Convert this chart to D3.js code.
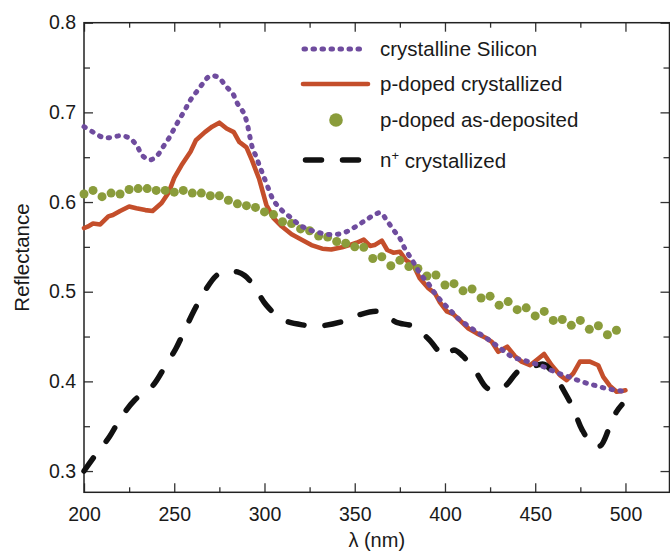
<!DOCTYPE html>
<html>
<head>
<meta charset="utf-8">
<script src="https://cdn.jsdelivr.net/npm/d3@7"></script>
<style>
  body { margin: 0; background: #fff; }
  svg text { font-family: "Liberation Sans", Arial, sans-serif; fill: #1a1a1a; }
</style>
</head>
<body>
<script>
// crystalline Silicon (dotted purple)
var siLambda = [200, 205, 210.7, 215.3, 220.3, 225.5, 229.5, 232.3, 236.6, 240.6, 244, 247.3, 250, 252.8, 256, 258.7, 262, 265.8, 269.8, 274.4,
  278.7, 282.4, 285, 288.3, 290.1, 292, 293.4, 295.3, 297.5, 299.3, 302, 305, 309.5, 315, 319.7, 325, 330, 335, 340, 345.5,
  350, 354.7, 359.4, 364.3, 367.6, 371.4, 375, 377.8, 380.6, 383.4, 386.1, 390.8, 394.5, 398.2, 402.8, 407.4, 413, 418.5, 423.1, 428.3,
  433.2, 437.8, 443, 448, 452.6, 457.8, 462.8, 467.4, 472.6, 477.6, 482.2, 487.4, 492.3, 497, 500];
var siR = [0.684, 0.678, 0.672, 0.672, 0.674, 0.671, 0.662, 0.652, 0.647, 0.652, 0.662, 0.672, 0.682, 0.692, 0.703, 0.713, 0.722, 0.732, 0.7406, 0.739,
  0.729, 0.721, 0.710, 0.700, 0.690, 0.672, 0.660, 0.651, 0.639, 0.630, 0.616, 0.602, 0.591, 0.582, 0.574, 0.569, 0.566, 0.564, 0.564, 0.567,
  0.572, 0.578, 0.584, 0.588, 0.580, 0.569, 0.5596, 0.548, 0.539, 0.530, 0.5205, 0.509, 0.498, 0.489, 0.4796, 0.470, 0.4617, 0.454, 0.448, 0.4405,
  0.433, 0.4268, 0.424, 0.4208, 0.418, 0.4134, 0.409, 0.406, 0.402, 0.3985, 0.396, 0.393, 0.391, 0.3895, 0.389];

// p-doped crystallized (solid red)
var pcLambda = [200, 202, 205, 209, 213.5, 216, 220, 225, 229, 234, 238, 243, 247, 250, 254, 259, 262, 267, 271, 275,
  279, 283, 286, 290, 293, 297, 301, 305, 309.5, 315, 320.6, 326, 332, 337, 343, 347, 351, 355, 358.5, 361,
  365, 368, 371.4, 375, 378.4, 382.4, 386, 390.8, 394.5, 397.2, 401, 404.6, 408.3, 413, 417.6, 422.2, 426, 429.5, 434.5, 438.8,
  442.5, 447.1, 450.8, 454.9, 459.1, 463.7, 467.4, 471.1, 474.8, 480.3, 484.9, 487.7, 491.4, 495.1, 497.5, 500];
var pcR = [0.571, 0.5725, 0.576, 0.575, 0.584, 0.5855, 0.590, 0.595, 0.593, 0.591, 0.590, 0.599, 0.611, 0.627, 0.641, 0.656, 0.669, 0.678, 0.684, 0.6885,
  0.682, 0.678, 0.667, 0.661, 0.647, 0.626, 0.597, 0.582, 0.573, 0.564, 0.558, 0.552, 0.548, 0.547, 0.5495, 0.552, 0.5546, 0.558, 0.551, 0.552,
  0.557, 0.5465, 0.5435, 0.5446, 0.5353, 0.530, 0.515, 0.504, 0.498, 0.488, 0.478, 0.475, 0.468, 0.459, 0.4536, 0.449, 0.444, 0.433, 0.4387, 0.428,
  0.422, 0.418, 0.4238, 0.4305, 0.418, 0.407, 0.4015, 0.409, 0.422, 0.422, 0.418, 0.405, 0.395, 0.3885, 0.389, 0.390];

// p-doped as-deposited (green markers, every 5 nm)
var paLambda = d3.range(200, 500, 5);
var paR = [0.609, 0.613, 0.606, 0.610, 0.609, 0.614, 0.615, 0.615, 0.613, 0.613,
  0.611, 0.613, 0.610, 0.610, 0.607, 0.607, 0.602, 0.598, 0.596, 0.594,
  0.589, 0.586, 0.578, 0.576, 0.570, 0.568, 0.562, 0.561, 0.556, 0.554,
  0.550, 0.5495, 0.537, 0.539, 0.529, 0.535, 0.528, 0.526, 0.5175, 0.5186,
  0.5075, 0.509, 0.501, 0.503, 0.493, 0.495, 0.485, 0.489, 0.480, 0.482,
  0.473, 0.478, 0.468, 0.469, 0.4625, 0.468, 0.458, 0.462, 0.452, 0.457];

// n+ crystallized (dashed black)
var ncLambda = [200, 206, 214, 220, 228, 238, 245, 251, 256, 261, 267, 274, 280, 285, 289, 294, 301, 310, 321, 331,
  342, 352, 363, 368, 373, 383, 391, 400, 405, 410, 417, 423, 428, 434, 441, 451, 455, 460, 466, 471,
  476, 482, 486, 491, 495, 498];
var ncR = [0.300, 0.317, 0.338, 0.358, 0.379, 0.395, 0.417, 0.437, 0.458, 0.479, 0.501, 0.519, 0.523, 0.522, 0.518, 0.507, 0.485, 0.469, 0.463, 0.462,
  0.466, 0.474, 0.478, 0.473, 0.466, 0.461, 0.447, 0.428, 0.435, 0.428, 0.411, 0.393, 0.390, 0.396, 0.412, 0.418, 0.419, 0.409, 0.389, 0.370,
  0.346, 0.329, 0.328, 0.348, 0.366, 0.374];

var xMajor = [200, 250, 300, 350, 400, 450, 500];
var xMinor = [225, 275, 325, 375, 425, 475, 525];
var yMajor = [0.3, 0.4, 0.5, 0.6, 0.7, 0.8];
var yMinor = [0.35, 0.45, 0.55, 0.65, 0.75];

var legendNames = ["crystalline Silicon", "p-doped crystallized", "p-doped as-deposited", "crystallized"];

var width = 670, height = 554;
var plotLeft = 84, plotTop = 22.7, plotRight = 669.5, plotBottom = 492.3;

var purple = "#6f4c9e", red = "#c44e2b", green = "#8a9c3b", black = "#111";

var svg = d3.select("body").append("svg")
    .attr("width", width)
    .attr("height", height);

var x = d3.scaleLinear().domain([200, 524.4]).range([plotLeft, plotRight]);
var y = d3.scaleLinear().domain([0.2763, 0.8]).range([plotBottom, plotTop]);

function zip(a, b) { return a.map(function(v, i) { return [v, b[i]]; }); }

// axes: ticks point inward on all four sides
function drawAxis(axis, tx, ty, size, values, labels) {
  var g = svg.append("g")
      .attr("transform", "translate(" + tx + "," + ty + ")")
      .call(axis.tickValues(values).tickSizeInner(size).tickSizeOuter(0));
  g.select(".domain").remove();
  g.selectAll(".tick line").attr("stroke", "#333").attr("stroke-width", 1.3);
  if (!labels) g.selectAll(".tick text").remove();
  return g;
}

var bx = drawAxis(d3.axisBottom(x).tickPadding(15).tickFormat(d3.format("d")), 0, plotBottom, -9, xMajor, true);
bx.selectAll(".tick text").attr("font-size", "19.5px").attr("fill", "#1a1a1a");
drawAxis(d3.axisBottom(x), 0, plotBottom, -5, xMinor, false);
drawAxis(d3.axisTop(x), 0, plotTop, -9, xMajor, false);
drawAxis(d3.axisTop(x), 0, plotTop, -5, xMinor, false);

var ly = drawAxis(d3.axisLeft(y).tickPadding(8).tickFormat(d3.format(".1f")), plotLeft, 0, -9, yMajor, true);
ly.selectAll(".tick text").attr("font-size", "19.5px").attr("fill", "#1a1a1a");
drawAxis(d3.axisLeft(y), plotLeft, 0, -6, yMinor, false);
drawAxis(d3.axisRight(y), plotRight, 0, -9, yMajor, false);
drawAxis(d3.axisRight(y), plotRight, 0, -6, yMinor, false);

// frame
svg.append("rect")
    .attr("x", plotLeft).attr("y", plotTop)
    .attr("width", plotRight - plotLeft).attr("height", plotBottom - plotTop)
    .attr("fill", "none").attr("stroke", "#222").attr("stroke-width", 1.5);

// axis titles
svg.append("text")
    .attr("x", (plotLeft + plotRight) / 2).attr("y", 547)
    .attr("text-anchor", "middle").attr("font-size", "20px")
    .text("λ (nm)");

svg.append("text")
    .attr("transform", "translate(29," + ((plotTop + plotBottom) / 2) + ") rotate(-90)")
    .attr("text-anchor", "middle").attr("font-size", "20.5px")
    .text("Reflectance");

// curves
var plot = svg.append("g");

var smooth = d3.line().x(function(d) { return x(d[0]); }).y(function(d) { return y(d[1]); })
    .curve(d3.curveCatmullRom);
var straight = d3.line().x(function(d) { return x(d[0]); }).y(function(d) { return y(d[1]); });

plot.append("path")
    .attr("d", straight(zip(pcLambda, pcR)))
    .attr("fill", "none").attr("stroke", red).attr("stroke-width", 4.6)
    .attr("stroke-linejoin", "round").attr("stroke-linecap", "round");

plot.append("path")
    .attr("d", smooth(zip(ncLambda, ncR)))
    .attr("fill", "none").attr("stroke", black).attr("stroke-width", 5.5)
    .attr("stroke-dasharray", "16 21").attr("stroke-linecap", "round");

plot.selectAll("circle.pa")
    .data(zip(paLambda, paR))
    .enter().append("circle")
    .attr("class", "pa")
    .attr("cx", function(d) { return x(d[0]); })
    .attr("cy", function(d) { return y(d[1]); })
    .attr("r", 4.5)
    .attr("fill", green);

plot.append("path")
    .attr("d", smooth(zip(siLambda, siR)))
    .attr("fill", "none").attr("stroke", purple).attr("stroke-width", 5)
    .attr("stroke-dasharray", "1.5 7.5").attr("stroke-linecap", "round");

// legend
var legX0 = 304, legX1 = 367, legText = 380;
var rows = [49, 84, 120, 160];

svg.append("line")
    .attr("x1", legX0).attr("x2", legX1).attr("y1", rows[0]).attr("y2", rows[0])
    .attr("stroke", purple).attr("stroke-width", 5)
    .attr("stroke-dasharray", "1.5 7.5").attr("stroke-linecap", "round");
svg.append("line")
    .attr("x1", legX0 - 1).attr("x2", legX1 + 1).attr("y1", rows[1]).attr("y2", rows[1])
    .attr("stroke", red).attr("stroke-width", 4.6).attr("stroke-linecap", "round");
svg.append("circle")
    .attr("cx", 336).attr("cy", rows[2]).attr("r", 6.8).attr("fill", green);
svg.append("line")
    .attr("x1", 305.5).attr("x2", 360).attr("y1", rows[3]).attr("y2", rows[3])
    .attr("stroke", black).attr("stroke-width", 5.5)
    .attr("stroke-dasharray", "16 21").attr("stroke-linecap", "round");

legendNames.forEach(function(name, i) {
  var t = svg.append("text")
      .attr("x", legText).attr("y", rows[i]).attr("dy", "0.36em")
      .attr("font-size", "20.5px");
  if (i === 3) {
    t.append("tspan").text("n");
    t.append("tspan").attr("font-size", "13px").attr("dy", "-0.6em").text("+");
    t.append("tspan").attr("dy", "0.4em").text(" " + name);
  } else {
    t.text(name);
  }
});
</script>
</body>
</html>
